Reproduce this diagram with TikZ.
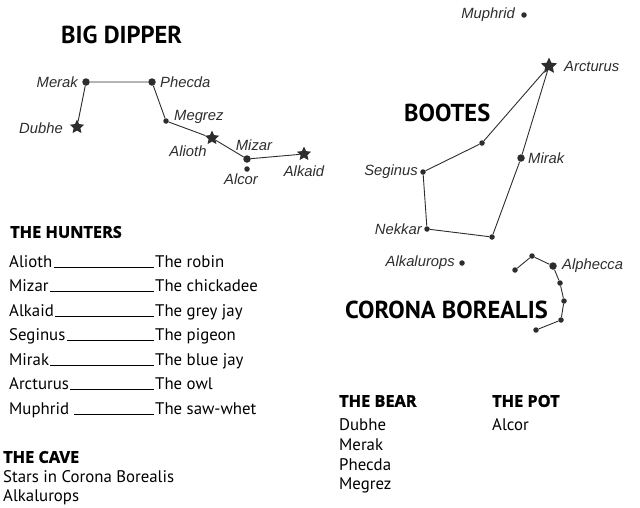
\documentclass[tikz,border=0pt]{standalone}
\usepackage{fontspec}
\setmainfont{PT Sans}
\newfontfamily\starfont{Liberation Sans}
\newfontfamily\headfont[BoldFeatures={FakeBold=1.5}]{Open Sans}
\usepackage{xcolor}
\usetikzlibrary{shapes.geometric}
\definecolor{inkgray}{RGB}{45,45,45}
\tikzset{
	dot/.style={circle, fill=inkgray, inner sep=0pt, minimum size=7.5pt},
	smalldot/.style={dot, minimum size=5.5pt},
	bright/.style={star, star points=5, star point ratio=2.1, fill=inkgray, inner sep=0pt, minimum size=15pt},
	starname/.style={font=\starfont\itshape\fontsize{14.8}{15}\selectfont, text=inkgray, inner sep=1pt},
	group/.style={font=\bfseries\fontsize{24.5}{25}\selectfont, inner sep=0pt},
	heading/.style={font=\headfont\bfseries\fontsize{16.3}{17}\selectfont, inner sep=0pt},
	entry/.style={font=\fontsize{16.8}{17}\selectfont, inner sep=1pt},
	link/.style={inkgray, line width=0.9pt},
	blank/.style={black, line width=0.7pt},
}

\begin{document}
\begin{tikzpicture}[x=1pt, y=-1pt]
		\useasboundingbox (0,0) rectangle (640,507);
		% big dipper
		\node[group, anchor=west] (dipper) at (61,35) {BIG DIPPER};
		\node[bright] (dubhe) at (77,127) {};
		\node[dot] (merak) at (86,82) {};
		\node[dot] (phecda) at (152,82) {};
		\node[smalldot] (megrez) at (166,121) {};
		\node[bright] (alioth) at (212,138) {};
		\node[dot] (mizar) at (247,159) {};
		\node[smalldot] (alcor) at (247,169) {};
		\node[bright] (alkaid) at (304,154) {};
		\draw[link] (dubhe) -- (merak) -- (phecda) -- (megrez) -- (alioth) -- (mizar) -- (alkaid);
		\node[starname, anchor=east] (dubhe-l) at (64,128) {Dubhe};
		\node[starname, anchor=east] (merak-l) at (79,82) {Merak};
		\node[starname, anchor=west] (phecda-l) at (159,82) {Phecda};
		\node[starname, anchor=west] (megrez-l) at (173,117) {Megrez};
		\node[starname] (alioth-l) at (188,151) {Alioth};
		\node[starname] (mizar-l) at (254,145) {Mizar};
		\node[starname] (alcor-l) at (241,179) {Alcor};
		\node[starname] (alkaid-l) at (304,171) {Alkaid};
		% bootes
		\node[group, anchor=west] (bootes) at (404,113) {BOOTES};
		\node[smalldot] (muphrid) at (524,15) {};
		\node[bright, minimum size=17pt] (arcturus) at (549,66) {};
		\node[smalldot] (shoulder) at (482,143) {};
		\node[dot] (mirak) at (521,158) {};
		\node[smalldot] (seginus) at (423,172) {};
		\node[smalldot] (nekkar) at (427,229) {};
		\node[smalldot] (knee) at (492,237) {};
		\node[smalldot] (alkalurops) at (462,263) {};
		\draw[link] (arcturus) -- (shoulder) -- (seginus) -- (nekkar) -- (knee) -- (mirak) -- (arcturus);
		\node[starname, anchor=east] (muphrid-l) at (516,15) {Muphrid};
		\node[starname, anchor=west] (arcturus-l) at (563,66) {Arcturus};
		\node[starname, anchor=west] (mirak-l) at (527,158) {Mirak};
		\node[starname, anchor=east] (seginus-l) at (419,172) {Seginus};
		\node[starname, anchor=east] (nekkar-l) at (423,229) {Nekkar};
		\node[starname, anchor=east] (alkalurops-l) at (456,263) {Alkalurops};
		% corona borealis
		\node[group, anchor=west] (corona) at (345,310) {CORONA BOREALIS};
		\node[smalldot] (cb1) at (515,270) {};
		\node[smalldot] (cb2) at (532,256) {};
		\node[dot] (alphecca) at (553,266) {};
		\node[smalldot] (cb4) at (560,283) {};
		\node[smalldot] (cb5) at (564,301) {};
		\node[smalldot] (cb6) at (561,320) {};
		\node[smalldot] (cb7) at (536,330) {};
		\draw[link] (cb1) -- (cb2) -- (alphecca) -- (cb4) -- (cb5) -- (cb6) -- (cb7);
		\node[starname, anchor=west] (alphecca-l) at (561,266) {Alphecca};
		% the hunters
		\node[heading, anchor=west] (hunters) at (10,232) {THE HUNTERS};
		\node[entry, anchor=base west] (h1) at (8,267) {Alioth};
		\node[entry, anchor=base west] (h2) at (8,291.5) {Mizar};
		\node[entry, anchor=base west] (h3) at (8,316) {Alkaid};
		\node[entry, anchor=base west] (h4) at (8,340.5) {Seginus};
		\node[entry, anchor=base west] (h5) at (8,365) {Mirak};
		\node[entry, anchor=base west] (h6) at (8,389.5) {Arcturus};
		\node[entry, anchor=base west] (h7) at (8,414) {Muphrid};
		\node[entry, anchor=base west] (b1) at (154,267) {The robin};
		\node[entry, anchor=base west] (b2) at (154,291.5) {The chickadee};
		\node[entry, anchor=base west] (b3) at (154,316) {The grey jay};
		\node[entry, anchor=base west] (b4) at (154,340.5) {The pigeon};
		\node[entry, anchor=base west] (b5) at (154,365) {The blue jay};
		\node[entry, anchor=base west] (b6) at (154,389.5) {The owl};
		\node[entry, anchor=base west] (b7) at (154,414) {The saw-whet};
		\draw[blank] (h1.base east) -- (b1.base west);
		\draw[blank] (h2.base east) -- (b2.base west);
		\draw[blank] (h3.base east) -- (b3.base west);
		\draw[blank] (h4.base east) -- (b4.base west);
		\draw[blank] (h5.base east) -- (b5.base west);
		\draw[blank] (h6.base east) -- (b6.base west);
		\draw[blank, shorten <=4pt] (h7.base east) -- (b7.base west);
		% the cave
		\node[heading, anchor=west] (cave) at (3,457) {THE CAVE};
		\node[entry, anchor=west] (cave1) at (2,477) {Stars in Corona Borealis};
		\node[entry, anchor=west] (cave2) at (2,497) {Alkalurops};
		% the bear and the pot
		\node[heading, anchor=west] (bear) at (339,401) {THE BEAR};
		\node[entry, anchor=west] (bear1) at (338,425) {Dubhe};
		\node[entry, anchor=west] (bear2) at (338,445) {Merak};
		\node[entry, anchor=west] (bear3) at (338,465) {Phecda};
		\node[entry, anchor=west] (bear4) at (338,485) {Megrez};
		\node[heading, anchor=west] (pot) at (492,401) {THE POT};
		\node[entry, anchor=west] (pot1) at (491,425) {Alcor};
\end{tikzpicture}
\end{document}
